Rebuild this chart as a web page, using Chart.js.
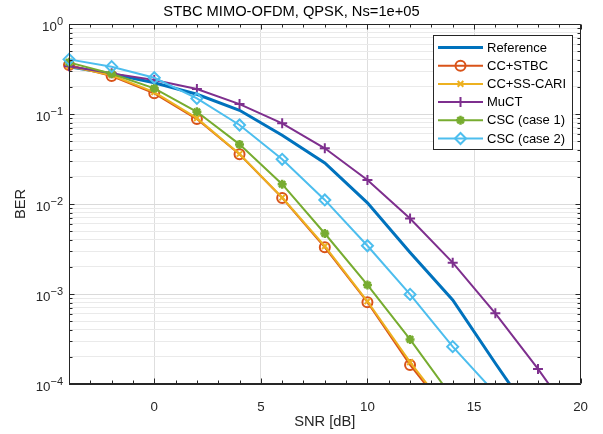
<!DOCTYPE html>
<html>
<head>
<meta charset="utf-8">
<style>
  html, body { margin: 0; padding: 0; background: #ffffff; }
  #wrap { width: 603px; height: 434px; }
</style>
<script src="https://cdn.jsdelivr.net/npm/chart.js@4.4.1/dist/chart.umd.min.js"></script>
</head>
<body>
<div id="wrap"><canvas id="ber" width="603" height="434"></canvas></div>
<script>
// SNR points (dB) and BER values
const snr = [-4, -2, 0, 2, 4, 6, 8, 10, 12, 14, 16, 18, 20];
const berReference = [0.336, 0.28, 0.223, 0.166, 0.11, 0.058, 0.0286, 0.0103, 0.0029, 0.00086, 0.00017, 0.000035];
const berCcStbc    = [0.35, 0.264, 0.17, 0.088, 0.0357, 0.0117, 0.0033, 0.00081, 0.000163, 0.000041];
const berCcSsCari  = [0.34, 0.27, 0.175, 0.09, 0.036, 0.0118, 0.0034, 0.00083, 0.000175, 0.000043];
const berMuct      = [0.34, 0.283, 0.239, 0.19, 0.129, 0.0788, 0.0416, 0.0185, 0.0069, 0.00223, 0.00061, 0.000147, 0.000032];
const berCsc1      = [0.375, 0.28, 0.193, 0.106, 0.046, 0.0166, 0.0047, 0.00126, 0.000313, 0.00007];
const berCsc2      = [0.405, 0.336, 0.253, 0.149, 0.0755, 0.0314, 0.0111, 0.00344, 0.00099, 0.00026, 0.000079];

const seriesNames = ['Reference', 'CC+STBC', 'CC+SS-CARI', 'MuCT', 'CSC (case 1)', 'CSC (case 2)'];
const xTickValues = [0, 5, 10, 15, 20];
const yMin = 1e-4, yMax = 1;

const FONT = "'Liberation Sans', Arial, Helvetica, sans-serif";
const AXIS_COLOR = '#262626';

Chart.defaults.font.family = FONT;
Chart.defaults.color = AXIS_COLOR;

function toPoints(values) {
    return values.map((v, i) => ({ x: snr[i], y: v }));
}

function isDecade(v) {
    const l = Math.log10(v);
    return Math.abs(l - Math.round(l)) < 1e-9;
}

const styles = [
    { color: '#0072BD', width: 3,   point: false,     radius: 0 },
    { color: '#D95319', width: 2,   point: 'circle',  radius: 5 },
    { color: '#EDB120', width: 2,   point: 'crossRot', radius: 4 },
    { color: '#7E2F8E', width: 2,   point: 'cross',   radius: 5 },
    { color: '#77AC30', width: 2,   point: 'star',    radius: 4.5 },
    { color: '#4DBEEE', width: 2,   point: 'rectRot', radius: 5.5 }
];
const allSeries = [berReference, berCcStbc, berCcSsCari, berMuct, berCsc1, berCsc2];

const datasets = allSeries.map((vals, i) => ({
    label: seriesNames[i],
    data: toPoints(vals),
    borderColor: styles[i].color,
    backgroundColor: styles[i].color,
    borderWidth: styles[i].width,
    pointStyle: styles[i].point,
    pointRadius: styles[i].radius,
    pointBorderWidth: i === 4 ? 2.5 : 2,
    pointBorderColor: styles[i].color,
    pointBackgroundColor: 'rgba(255,255,255,0)',
    tension: 0,
    fill: false,
    clip: { left: 8, top: 0, right: 0, bottom: 0 },
    order: 10 - i   // later series on top, like the original
}));

// box, inward tick marks and 10^n labels
const axesPlugin = {
    id: 'matlabAxes',
    afterDatasetsDraw(chart) {
        const { ctx, chartArea, scales } = chart;
        const { left, right, top, bottom } = chartArea;
        const xs = scales.x, ys = scales.y;
        ctx.save();
        ctx.strokeStyle = AXIS_COLOR;
        ctx.lineWidth = 1;
        const L = Math.round(left) + 0.5, R = Math.round(right) - 0.5;
        const T = Math.round(top) + 0.5, B = Math.round(bottom) - 0.5;
        ctx.beginPath();
        ctx.moveTo(L, T); ctx.lineTo(R, T); ctx.lineTo(R, B); ctx.lineTo(L, B); ctx.closePath();
        // x ticks every dB, longer at labelled ones
        for (let v = -4; v <= 20; v++) {
            const px = Math.round(xs.getPixelForValue(v)) + 0.5;
            const len = v % 5 === 0 ? 5 : 3;
            ctx.moveTo(px, B); ctx.lineTo(px, B - len);
            ctx.moveTo(px, T); ctx.lineTo(px, T + len);
        }
        // y ticks at decades and 2..9
        for (let e = -4; e <= 0; e++) {
            for (let m = 1; m <= 9; m++) {
                const v = m * Math.pow(10, e);
                if (v > yMax * 1.0001) break;
                const py = Math.round(ys.getPixelForValue(v)) + 0.5;
                const len = m === 1 ? 5 : 3;
                ctx.moveTo(L, py); ctx.lineTo(L + len, py);
                ctx.moveTo(R, py); ctx.lineTo(R - len, py);
            }
        }
        ctx.stroke();

        // y tick labels with superscript exponents
        ctx.fillStyle = AXIS_COLOR;
        ctx.textBaseline = 'middle';
        ctx.textAlign = 'left';
        for (let e = -4; e <= 0; e++) {
            const py = ys.getPixelForValue(Math.pow(10, e));
            const expText = e < 0 ? '\u2212' + (-e) : String(e);
            ctx.font = '11px ' + FONT;
            const expW = ctx.measureText(expText).width;
            ctx.font = '13.3px ' + FONT;
            const baseW = ctx.measureText('10').width;
            const xEnd = 63;
            ctx.fillText('10', xEnd - expW - baseW, py + 3);
            ctx.font = '11px ' + FONT;
            ctx.fillText(expText, xEnd - expW, py - 2.5);
        }
        ctx.restore();
    }
};

// legend box inside the plot, upper right
const legendPlugin = {
    id: 'insideLegend',
    afterDraw(chart) {
        const { ctx } = chart;
        const boxL = 433.5, boxT = 35.5, boxW = 139, boxH = 114;
        ctx.save();
        ctx.fillStyle = '#ffffff';
        ctx.fillRect(boxL, boxT, boxW, boxH);
        ctx.strokeStyle = AXIS_COLOR;
        ctx.lineWidth = 1;
        ctx.strokeRect(boxL, boxT, boxW, boxH);
        ctx.font = '13px ' + FONT;
        ctx.textBaseline = 'middle';
        ctx.textAlign = 'left';
        chart.data.datasets.forEach((ds, i) => {
            const y = 47.5 + i * 18.2;
            ctx.strokeStyle = ds.borderColor;
            ctx.lineWidth = ds.borderWidth;
            ctx.beginPath();
            ctx.moveTo(438, y);
            ctx.lineTo(483, y);
            ctx.stroke();
            if (ds.pointStyle && ds.pointRadius > 0 && Chart.helpers && Chart.helpers.drawPoint) {
                ctx.fillStyle = ds.pointBackgroundColor;
                ctx.strokeStyle = ds.pointBorderColor;
                ctx.lineWidth = ds.pointBorderWidth;
                Chart.helpers.drawPoint(ctx, {
                    pointStyle: ds.pointStyle,
                    radius: ds.pointRadius,
                    rotation: 0,
                    borderWidth: ds.pointBorderWidth
                }, 460.5, y);
            }
            ctx.fillStyle = '#000000';
            ctx.fillText(ds.label, 487, y + 0.5);
        });
        ctx.restore();
    }
};

new Chart(document.getElementById('ber').getContext('2d'), {
    type: 'line',
    data: { datasets: datasets },
    options: {
        responsive: false,
        animation: false,
        devicePixelRatio: 1,
        layout: { padding: { left: 0, right: 20, top: 0, bottom: 0 } },
        plugins: {
            legend: { display: false },
            tooltip: { enabled: false },
            title: {
                display: true,
                text: 'STBC MIMO-OFDM, QPSK, Ns=1e+05',
                color: '#000000',
                font: { size: 14.7, weight: 'normal', family: FONT },
                padding: { top: 3.2, bottom: 3.2 }
            }
        },
        scales: {
            x: {
                type: 'linear',
                min: -4,
                max: 20,
                afterBuildTicks: (scale) => {
                    scale.ticks = xTickValues.map(v => ({ value: v }));
                },
                afterFit: (scale) => { scale.height = 50; },
                ticks: { font: { size: 13.3 }, color: AXIS_COLOR, padding: 15, maxRotation: 0 },
                grid: { color: '#dedede', drawTicks: false },
                border: { color: AXIS_COLOR, width: 1 },
                title: {
                    display: true,
                    text: 'SNR [dB]',
                    color: AXIS_COLOR,
                    font: { size: 14.7 },
                    padding: { top: 0, bottom: 3 }
                }
            },
            y: {
                type: 'logarithmic',
                min: yMin,
                max: yMax,
                afterBuildTicks: (scale) => {
                    const t = [];
                    for (let e = -4; e <= 0; e++) {
                        for (let m = 1; m <= 9; m++) {
                            const v = m * Math.pow(10, e);
                            if (v > yMax * 1.0001) break;
                            t.push({ value: v });
                        }
                    }
                    scale.ticks = t;
                },
                afterFit: (scale) => { scale.width = 69; },
                ticks: { display: false },
                grid: {
                    drawTicks: false,
                    color: (c) => (c.tick && isDecade(c.tick.value)) ? '#dadada' : '#eaeaea'
                },
                border: { color: AXIS_COLOR, width: 1 },
                title: {
                    display: true,
                    text: 'BER',
                    color: AXIS_COLOR,
                    font: { size: 14.7 },
                    padding: { top: 12, bottom: 0 }
                }
            }
        }
    },
    plugins: [axesPlugin, legendPlugin]
});
</script>
</body>
</html>
